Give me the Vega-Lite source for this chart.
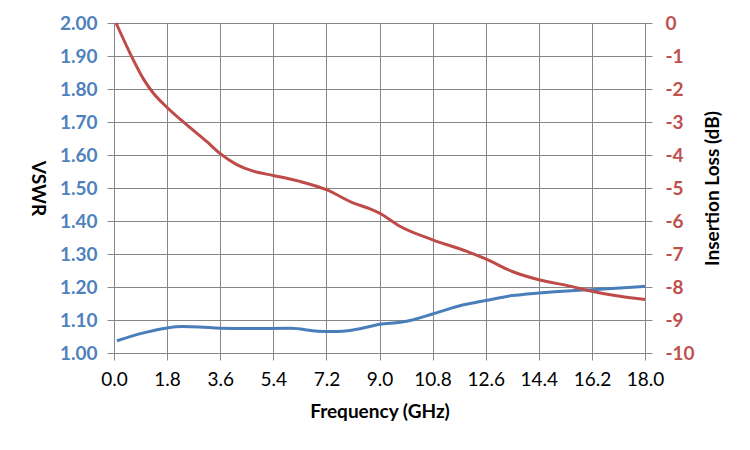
{
  "$schema": "https://vega.github.io/schema/vega-lite/v6.json",
  "width": 531,
  "height": 330,
  "autosize": {"type": "none"},
  "padding": {"left": 114, "top": 23, "right": 105, "bottom": 97},
  "background": "white",
  "config": {
    "font": "Lato",
    "view": {"stroke": null},
    "axis": {
      "gridColor": "#868686",
      "gridOpacity": 1,
      "gridWidth": 1,
      "domainColor": "#868686",
      "domainWidth": 1,
      "tickColor": "#868686",
      "tickSize": 7,
      "tickWidth": 1,
      "labelFont": "Lato",
      "titleFont": "Lato",
      "labelFontSize": 19,
      "titleFontSize": 19,
      "titleFontWeight": "bold",
      "titleColor": "#000000"
    }
  },
  "data": {
    "values": [
      {"s": "VSWR", "f": 0.1, "v": 1.037},
      {"s": "VSWR", "f": 1.0, "v": 1.061},
      {"s": "VSWR", "f": 1.8, "v": 1.076},
      {"s": "VSWR", "f": 2.3, "v": 1.080},
      {"s": "VSWR", "f": 2.9, "v": 1.079},
      {"s": "VSWR", "f": 3.6, "v": 1.075},
      {"s": "VSWR", "f": 4.6, "v": 1.074},
      {"s": "VSWR", "f": 6.0, "v": 1.075},
      {"s": "VSWR", "f": 6.9, "v": 1.066},
      {"s": "VSWR", "f": 7.45, "v": 1.065},
      {"s": "VSWR", "f": 8.1, "v": 1.070},
      {"s": "VSWR", "f": 8.7, "v": 1.081},
      {"s": "VSWR", "f": 9.0, "v": 1.087},
      {"s": "VSWR", "f": 9.7, "v": 1.093},
      {"s": "VSWR", "f": 10.15, "v": 1.101},
      {"s": "VSWR", "f": 10.8, "v": 1.118},
      {"s": "VSWR", "f": 11.85, "v": 1.146},
      {"s": "VSWR", "f": 12.6, "v": 1.159},
      {"s": "VSWR", "f": 13.5, "v": 1.174},
      {"s": "VSWR", "f": 14.4, "v": 1.182},
      {"s": "VSWR", "f": 15.5, "v": 1.189},
      {"s": "VSWR", "f": 16.2, "v": 1.192},
      {"s": "VSWR", "f": 17.15, "v": 1.197},
      {"s": "VSWR", "f": 18.0, "v": 1.202},
      {"s": "IL", "f": 0.07, "v": 0.0},
      {"s": "IL", "f": 0.65, "v": -1.11},
      {"s": "IL", "f": 1.0, "v": -1.70},
      {"s": "IL", "f": 1.33, "v": -2.12},
      {"s": "IL", "f": 1.8, "v": -2.56},
      {"s": "IL", "f": 2.46, "v": -3.08},
      {"s": "IL", "f": 3.14, "v": -3.59},
      {"s": "IL", "f": 3.6, "v": -3.96},
      {"s": "IL", "f": 4.16, "v": -4.29},
      {"s": "IL", "f": 4.72, "v": -4.49},
      {"s": "IL", "f": 5.4, "v": -4.62},
      {"s": "IL", "f": 6.3, "v": -4.80},
      {"s": "IL", "f": 7.2, "v": -5.05},
      {"s": "IL", "f": 8.1, "v": -5.45},
      {"s": "IL", "f": 8.68, "v": -5.63},
      {"s": "IL", "f": 9.0, "v": -5.76},
      {"s": "IL", "f": 9.69, "v": -6.16},
      {"s": "IL", "f": 10.8, "v": -6.57},
      {"s": "IL", "f": 11.96, "v": -6.92},
      {"s": "IL", "f": 12.6, "v": -7.15},
      {"s": "IL", "f": 13.5, "v": -7.53},
      {"s": "IL", "f": 14.4, "v": -7.78},
      {"s": "IL", "f": 15.5, "v": -7.98},
      {"s": "IL", "f": 16.2, "v": -8.13},
      {"s": "IL", "f": 17.15, "v": -8.28},
      {"s": "IL", "f": 18.0, "v": -8.38}
    ]
  },
  "encoding": {
    "x": {
      "field": "f",
      "type": "quantitative",
      "scale": {"domain": [0, 18], "nice": false, "zero": false},
      "axis": {
        "title": "Frequency (GHz)",
        "values": [0, 1.8, 3.6, 5.4, 7.2, 9.0, 10.8, 12.6, 14.4, 16.2, 18.0],
        "format": ".1f",
        "labelColor": "#000000",
        "labelPadding": 10,
        "labelFlush": false,
        "titleX": 265.5,
        "titleY": 58,
        "titleAlign": "center",
        "titleBaseline": "middle"
      }
    }
  },
  "layer": [
    {
      "transform": [{"filter": "datum.s === 'VSWR'"}],
      "mark": {"type": "line", "interpolate": "monotone", "color": "#4A7EBB", "strokeWidth": 3},
      "encoding": {
        "y": {
          "field": "v",
          "type": "quantitative",
          "scale": {"domain": [1, 2], "nice": false, "zero": false},
          "axis": {
            "title": "VSWR",
            "orient": "left",
            "titleAngle": 90,
            "titleX": -77,
            "titleY": 165,
            "titleAlign": "center",
            "titleBaseline": "middle",
            "values": [1.0, 1.1, 1.2, 1.3, 1.4, 1.5, 1.6, 1.7, 1.8, 1.9, 2.0],
            "format": ".2f",
            "labelColor": "#4F81BD",
            "labelFontWeight": "bold",
            "labelPadding": 10
          }
        }
      }
    },
    {
      "transform": [{"filter": "datum.s === 'IL'"}],
      "mark": {"type": "line", "interpolate": "monotone", "color": "#BE4B48", "strokeWidth": 3},
      "encoding": {
        "y": {
          "field": "v",
          "type": "quantitative",
          "scale": {"domain": [-10, 0], "nice": false, "zero": false},
          "axis": {
            "title": "Insertion Loss (dB)",
            "orient": "right",
            "titleAngle": 270,
            "titleX": 67,
            "titleY": 165,
            "titleAlign": "center",
            "titleBaseline": "middle",
            "grid": false,
            "values": [0, -1, -2, -3, -4, -5, -6, -7, -8, -9, -10],
            "labelExpr": "'' + datum.value",
            "labelColor": "#C0504D",
            "labelFontWeight": "bold",
            "labelPadding": 13
          }
        }
      }
    }
  ],
  "resolve": {"scale": {"y": "independent"}}
}
